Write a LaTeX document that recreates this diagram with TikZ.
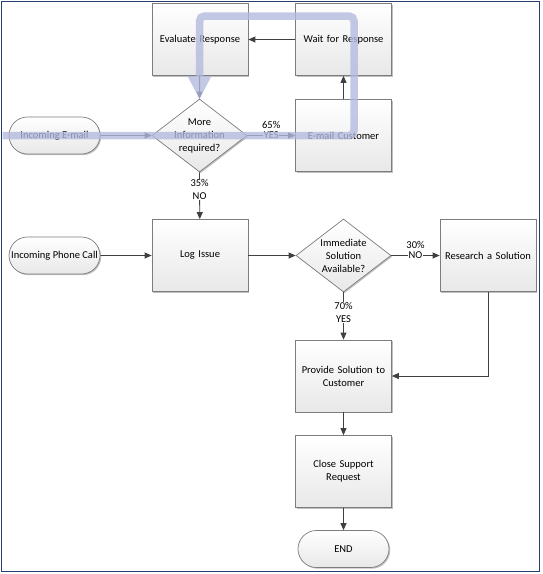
\documentclass[tikz,border=0pt]{standalone}
\usepackage{fontspec}
\setmainfont{Carlito}
\usetikzlibrary{shapes.geometric,shapes.misc,arrows.meta,shadows}
\definecolor{frameblue}{RGB}{36,64,110}
\definecolor{boxline}{RGB}{125,125,125}
\definecolor{arrowgray}{RGB}{64,64,64}
\definecolor{overlayblue}{RGB}{178,186,222}
\begin{document}
\begin{tikzpicture}[x=1pt,y=-1pt,
  font=\fontsize{10.5}{13}\selectfont,
  boxbase/.style={draw=boxline,line width=0.7pt,top color=white,bottom color=black!9,
    drop shadow={shadow xshift=1.2pt,shadow yshift=-1.2pt,opacity=0.25,fill=black}},
  proc/.style={boxbase,rectangle,minimum width=96pt,minimum height=72pt,inner sep=2pt,align=center,text width=90pt},
  dec/.style={boxbase,diamond,minimum width=95pt,minimum height=73pt,inner sep=0pt},
  term/.style={boxbase,rounded rectangle,minimum width=95pt,minimum height=37pt,inner sep=2pt},
  arr/.style={draw=arrowgray,line width=0.9pt,-{Triangle[length=7pt,width=6pt]}},
  pct/.style={fill=white,inner sep=0.5pt,align=center},
  overlay/.style={draw=overlayblue,opacity=0.78,line width=7.5pt,rounded corners=5pt}
]
\useasboundingbox (0,0) rectangle (542,574);
\draw[frameblue,line width=1.6pt] (1.5,1.5) rectangle (539.5,571.5);

% nodes
\node[proc] (eval) at (200,39.5) {Evaluate Response};
\node[proc] (wait) at (343.5,39.5) {Wait for Response};
\node[proc] (email) at (343.5,135.5) {E-mail Customer};
\node[dec,label={[align=center,font=\fontsize{10.5}{13}\selectfont]center:More\\Information\\required?}] (more) at (199.5,135.5) {};
\node[term] (inmail) at (54.5,135.5) {Incoming E-mail};
\node[proc] (log) at (200,255.5) {Log Issue};
\node[term] (phone) at (54.5,255.5) {Incoming Phone Call};
\node[dec,label={[align=center,font=\fontsize{10.5}{13}\selectfont]center:Immediate\\Solution\\Available?}] (imm) at (343.5,255.5) {};
\node[proc] (research) at (488,255.5) {Research a Solution};
\node[proc] (provide) at (343.5,376) {Provide Solution to\\Customer};
\node[proc] (close) at (343.5,471.5) {Close Support\\Request};
\node[term] (endn) at (343.5,549) {END};

% connectors
\draw[arr] (inmail) -- (more.west);
\draw[arr] (more.east) -- node[pct] (yes1) {YES} (email.west);
\node (p65) at ([yshift=11pt]yes1.center) {65\%};
\draw[arr] (email) -- (wait);
\draw[arr] (wait) -- (eval);
\draw[arr] (eval) -- (more.north);
\draw[arr] (more.south) -- node[pct,pos=0.37] (no1) {35\%\\NO} (log);
\draw[arr] (phone) -- (log);
\draw[arr] (log) -- (imm.west);
\draw[arr] (imm.east) -- node[pct] (no2) {NO} (research.west);
\node (p30) at ([yshift=11pt]no2.center) {30\%};
\draw[arr] (imm.south) -- node[pct,pos=0.42] (yes2) {70\%\\YES} (provide);
\coordinate (rcorner) at (research.south |- provide.east);
\draw[arr] (research.south) -- (rcorner) -- (provide.east);
\draw[arr] (provide) -- (close);
\draw[arr] (close) -- (endn);

% highlighted path overlay
\coordinate (o1) at (2.5,135.5);
\coordinate (o2) at (354,135.5);
\coordinate (o3) at (354,16);
\coordinate (o4) at (199.5,16);
\coordinate (o5) at (199.5,76);
\draw[overlay] (o1) -- (o2) -- (o3) -- (o4) -- (o5);
\coordinate (t1) at (187.5,76);
\coordinate (t2) at (211.5,76);
\coordinate (t3) at (199.5,99);
\fill[overlayblue,opacity=0.78] (t1) -- (t2) -- (t3) -- cycle;
\end{tikzpicture}
\end{document}
